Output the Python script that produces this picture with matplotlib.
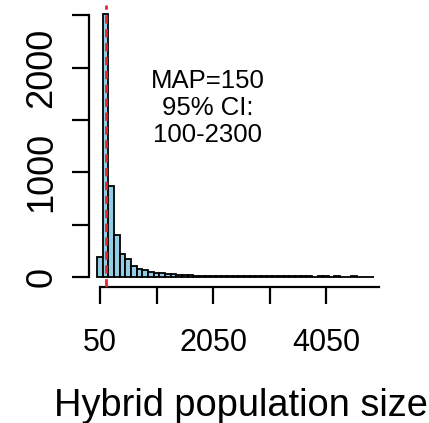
import numpy as np
import matplotlib
matplotlib.use("Agg")
import matplotlib.pyplot as plt

# ---- data ----
bin_width = 100
counts = [188, 2515, 870, 402, 217, 169, 105, 76, 67, 51, 38, 36, 29, 24, 20, 18, 14,
          12, 11, 11, 10, 9, 10, 8, 9, 8, 7, 8, 7, 6, 7, 6, 6, 5, 6, 5, 5, 6, 4, 5, 5,
          4, 5, 4, 4, 5, 4, 3, 4]
bin_left = [i * bin_width for i in range(len(counts))]
map_value = 150
x_ticks = [50, 1050, 2050, 3050, 4050]
x_ticklabels = ["50", "", "2050", "", "4050"]
y_ticks = [0, 500, 1000, 1500, 2000, 2500]
y_ticklabels = ["0", "", "1000", "", "2000", ""]
annot = "MAP=150\n95% CI:\n100-2300"
xlabel = "Hybrid population size"

plt.rcParams['font.family'] = ['Liberation Sans', 'DejaVu Sans']

W, H = 429, 423
fig = plt.figure(figsize=(W / 100, H / 100), dpi=100)
L, R, B, T = 89, 385, 287, 5
ax = fig.add_axes([L / W, 1 - B / H, (R - L) / W, (B - T) / H])
ax.set_xlim(-145, 5094)
ax.set_ylim(-96, 2600)

ax.bar(bin_left, counts, width=bin_width, align='edge', color='#93CDE3',
       edgecolor='black', linewidth=1.3, zorder=2)
ax.axvline(map_value, color='#E8262A', linestyle=(0, (3, 2)), linewidth=2, zorder=3)

for s in ['top', 'right']:
    ax.spines[s].set_visible(False)
ax.spines['left'].set_bounds(0, 2500)
ax.spines['bottom'].set_bounds(50, 4990)
for s in ['left', 'bottom']:
    ax.spines[s].set_linewidth(1.6)

ax.set_xticks(x_ticks)
ax.set_xticklabels(x_ticklabels, fontsize=22)
ax.set_yticks(y_ticks)
ax.set_yticklabels(y_ticklabels, fontsize=26, rotation=90, va='center')
ax.tick_params(axis='x', direction='out', length=12.5, width=1.6, pad=17)
ax.tick_params(axis='y', direction='out', length=12.5, width=1.6, pad=9)

ax.text(1960, 1985, annot, ha='center', va='top', fontsize=18.5, linespacing=1.15)

fig.text(241 / W, 1 - 416 / H, xlabel, ha='center', va='baseline', fontsize=27.4)

fig.savefig("out.png", dpi=100)
